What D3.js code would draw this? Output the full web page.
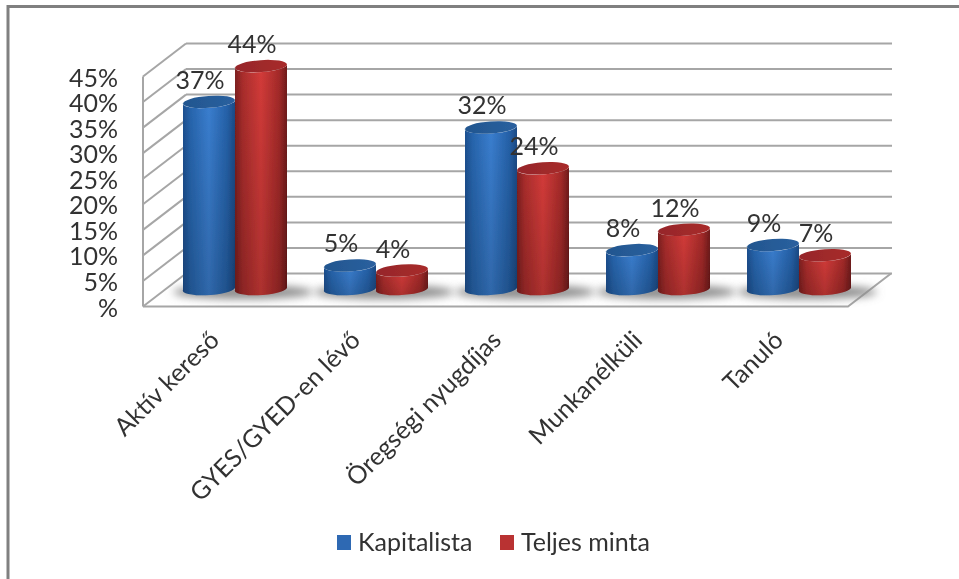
<!DOCTYPE html>
<html>
<head>
<meta charset="utf-8">
<script src="https://cdn.jsdelivr.net/npm/d3@7"></script>
<style>
	body { margin: 0; background: #fff; }
	svg { display: block; }
	text { font-family: Lato, "Open Sans", sans-serif; fill: #333; }
	.axis path, .axis line { display: none; }
	.axis text { font-size: 25px; font-family: Lato, sans-serif; fill: #333; }
	.grid { stroke: #a6a6a6; stroke-width: 2; fill: none; }
</style>
</head>
<body>
<div id="chart"></div>
<script>
var categories = ["Aktív kereső", "GYES/GYED-en lévő", "Öregségi nyugdíjas", "Munkanélküli", "Tanuló"]
var seriesNames = ["Kapitalista", "Teljes minta"]
var kapitalista = [37, 5, 32, 8, 9]
var teljesMinta = [44, 4, 24, 12, 7]
var yTicks = [0, 5, 10, 15, 20, 25, 30, 35, 40, 45]

var width = 959
var height = 579
var depthX = 43
var depthY = 33
var plot = {left: 143, right: 848, top: 76.5, bottom: 306.5}
var bar_width = 52
var ry = 6

var svg = d3.select("#chart").append("svg")
	.attr("width", width)
	.attr("height", height)

var defs = svg.append("defs")
function side_gradient(id, stops) {
	var grad = defs.append("linearGradient").attr("id", id)
	stops.forEach((s) => grad.append("stop").attr("offset", s[0]).attr("stop-color", s[1]))
}
side_gradient("blueSide", [[0, "#1d4f8f"], [0.15, "#2765ad"], [0.5, "#3a7ecf"], [0.85, "#2561a8"], [1, "#1c4a85"]])
side_gradient("redSide", [[0, "#7c1f1f"], [0.15, "#a92d2c"], [0.5, "#d33b39"], [0.85, "#a32a29"], [1, "#6f1b1b"]])
side_gradient("blueTop", [[0, "#22568f"], [1, "#2a609f"]])
side_gradient("redTop", [[0, "#96262a"], [1, "#a82c2a"]])

// darkens the lower part of the cylinders
var shade = defs.append("linearGradient").attr("id", "shade").attr("x2", 0).attr("y2", 1)
shade.append("stop").attr("offset", 0).attr("stop-color", "#000").attr("stop-opacity", 0)
shade.append("stop").attr("offset", 1).attr("stop-color", "#000").attr("stop-opacity", 0.18)

defs.append("filter").attr("id", "soft").append("feGaussianBlur").attr("stdDeviation", 0.7)
defs.append("filter").attr("id", "shadow")
	.attr("x", "-20%").attr("width", "140%").attr("y", "-100%").attr("height", "300%")
	.append("feGaussianBlur").attr("stdDeviation", 4)

var chart = svg.append("g").attr("filter", "url(#soft)")

// outer frame, only top and left are in the picture
chart.append("path")
	.attr("d", d3.line()([[8, height + 5], [8, 6.5], [width + 5, 6.5]]))
	.attr("fill", "none")
	.attr("stroke", "#808080")
	.attr("stroke-width", 3)

var yFront = d3.scaleLinear().domain([0, 45]).range([plot.bottom, plot.top])
var xFront = d3.scaleBand().domain(categories).range([plot.left, plot.right])
// bars stand half way into the floor depth
var xBars = d3.scaleBand().domain(categories).range([plot.left + depthX / 2, plot.right + depthX / 2])
var xSeries = d3.scaleBand().domain(seriesNames).range([-bar_width, bar_width])
var yBars = (v) => yFront(v) - depthY / 2

var grid = chart.append("g")
grid.selectAll("line.back")
	.data(yTicks)
	.enter().append("line")
	.attr("class", "grid back")
	.attr("x1", plot.left + depthX)
	.attr("x2", plot.right + depthX + 1)
	.attr("y1", (d) => yFront(d) - depthY)
	.attr("y2", (d) => yFront(d) - depthY)
grid.selectAll("line.wall")
	.data(yTicks)
	.enter().append("line")
	.attr("class", "grid wall")
	.attr("x1", plot.left)
	.attr("x2", plot.left + depthX)
	.attr("y1", (d) => yFront(d))
	.attr("y2", (d) => yFront(d) - depthY)
grid.append("line")
	.attr("class", "grid")
	.attr("x1", plot.left).attr("x2", plot.left)
	.attr("y1", yFront(45)).attr("y2", yFront(0))
// floor edges
grid.append("path")
	.attr("class", "grid")
	.attr("d", d3.line()([[plot.left, yFront(0)], [plot.right, yFront(0)], [plot.right + depthX, yFront(0) - depthY]]))

var axisY = d3.axisLeft(yFront).tickValues(yTicks).tickFormat((d) => d === 0 ? "%" : d + "%")
chart.append("g")
	.attr("class", "axis")
	.attr("transform", "translate(" + (plot.left - 16) + ",1.5)")
	.call(axisY)

var axisX = d3.axisBottom(xFront)
chart.append("g")
	.attr("class", "axis x")
	.attr("transform", "translate(0," + plot.bottom + ")")
	.call(axisX)
	.selectAll("text")
	.style("text-anchor", "end")
	.attr("transform", "translate(1,29) rotate(-45)")
	.attr("x", 0).attr("y", 0).attr("dy", "0.35em")

// shadows on the floor
chart.selectAll("ellipse.shadow")
	.data(categories)
	.enter().append("ellipse")
	.attr("class", "shadow")
	.attr("cx", (d) => xBars(d) + xBars.bandwidth() / 2 + 8)
	.attr("cy", yBars(0) + 2)
	.attr("rx", bar_width + 18)
	.attr("ry", 7)
	.attr("fill", "#8c8c8c")
	.attr("filter", "url(#shadow)")

function draw_series(name, values, color) {
	var g = chart.append("g").attr("class", "series")
	var cx = (i) => xBars(categories[i]) + xBars.bandwidth() / 2 + xSeries(name) + bar_width / 2
	var rx = bar_width / 2
	var cyl = g.selectAll("g.bar")
		.data(values)
		.enter().append("g")
		.attr("class", "bar")
	var body = (v, i) => {
		var top = yBars(v) + 2, bottom = yBars(0), x = cx(i)
		return "M" + (x - rx) + "," + top + "L" + (x - rx) + "," + bottom
			+ "A" + rx + "," + ry + " -4 0 0 " + (x + rx) + "," + (bottom - 2)
			+ "L" + (x + rx) + "," + (top - 2)
			+ "A" + rx + "," + ry + " -4 0 1 " + (x - rx) + "," + top + "Z"
	}
	cyl.append("path").attr("d", body).attr("fill", "url(#" + color + "Side)")
	cyl.append("path").attr("d", body).attr("fill", "url(#shade)")
	cyl.append("ellipse")
		.attr("rx", rx)
		.attr("ry", ry)
		.attr("transform", (v, i) => "translate(" + cx(i) + "," + (yBars(v) + 1) + ") rotate(-4)")
		.attr("fill", "url(#" + color + "Top)")
	return {g, cx}
}
var blue = draw_series(seriesNames[0], kapitalista, "blue")
var red = draw_series(seriesNames[1], teljesMinta, "red")

// data labels go on top of both series
function draw_labels(values, series) {
	chart.append("g").selectAll("text")
		.data(values)
		.enter().append("text")
		.attr("x", (v, i) => series.cx(i) - 9)
		.attr("y", (v) => yBars(v) - 12)
		.attr("text-anchor", "middle")
		.attr("font-size", 25)
		.text((v) => v + "%")
}
draw_labels(kapitalista, blue)
draw_labels(teljesMinta, red)

// legend
var legendX = d3.scalePoint().domain(seriesNames).range([337, 500])
var legendColors = d3.scaleOrdinal().domain(seriesNames).range(["#2f69b3", "#b93230"])
var legend = chart.selectAll("g.legend")
	.data(seriesNames)
	.enter().append("g")
	.attr("class", "legend")
	.attr("transform", (d) => "translate(" + legendX(d) + ",535)")
legend.append("rect")
	.attr("width", 14)
	.attr("height", 15)
	.attr("fill", (d) => legendColors(d))
legend.append("text")
	.attr("x", 21)
	.attr("y", 16)
	.attr("font-size", 25)
	.text((d) => d)
</script>
</body>
</html>
